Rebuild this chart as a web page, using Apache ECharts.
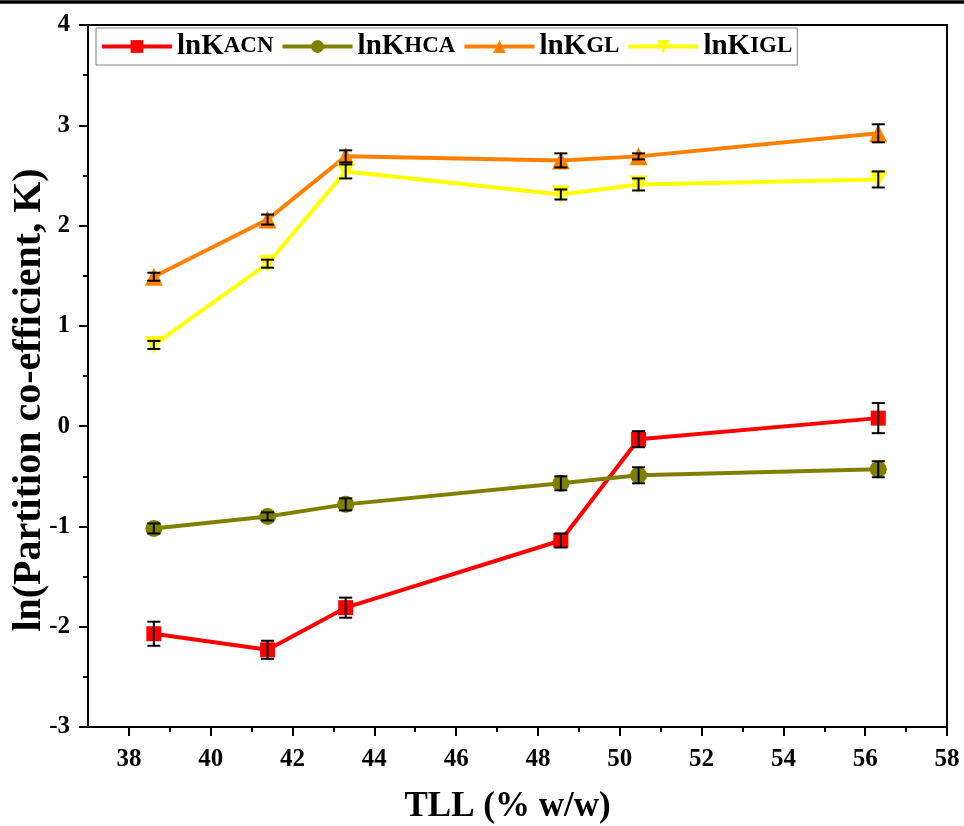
<!DOCTYPE html>
<html>
<head>
<meta charset="utf-8">
<script src="https://cdn.jsdelivr.net/npm/echarts@6/dist/echarts.min.js"></script>
<style>
html,body{margin:0;padding:0;background:#fff;}
#chart{width:964px;height:826px;}
</style>
</head>
<body>
<div id="chart"></div>
<script>
// ---- data ----
var tll = [38.61, 41.39, 43.30, 48.56, 50.46, 56.32];
var acn = [-2.07, -2.23, -1.81, -1.14, -0.13, 0.08];
var acnErr = [0.12, 0.09, 0.10, 0.07, 0.08, 0.15];
var hca = [-1.02, -0.90, -0.78, -0.57, -0.49, -0.43];
var hcaErr = [0.05, 0.04, 0.06, 0.07, 0.08, 0.08];
var gl = [1.49, 2.06, 2.69, 2.65, 2.69, 2.92];
var glErr = [0.04, 0.05, 0.06, 0.07, 0.03, 0.09];
var igl = [0.81, 1.62, 2.54, 2.31, 2.41, 2.46];
var iglErr = [0.04, 0.04, 0.07, 0.05, 0.06, 0.08];
var seriesNames = ['lnKACN', 'lnKHCA', 'lnKGL', 'lnKIGL'];
var subscripts = ['ACN', 'HCA', 'GL', 'IGL'];
var xMajorTicks = [38, 40, 42, 44, 46, 48, 50, 52, 54, 56, 58];
var xMinorTicks = [39, 41, 43, 45, 47, 49, 51, 53, 55, 57];

var FONT = '"Liberation Serif", "Times New Roman", serif';
var chart = echarts.init(document.getElementById('chart'), null, {renderer: 'canvas'});

function pairs(ys) { return tll.map(function (x, i) { return [x, ys[i]]; }); }
function errPairs(ys, es) { return tll.map(function (x, i) { return [x, ys[i] - es[i], ys[i] + es[i]]; }); }

function errorSeries(ys, es) {
  return {
    type: 'custom',
    xAxisIndex: 0, yAxisIndex: 0,
    z: 10,
    silent: true,
    data: errPairs(ys, es),
    renderItem: function (params, api) {
      var lo = api.coord([api.value(0), api.value(1)]);
      var hi = api.coord([api.value(0), api.value(2)]);
      var hw = 6.5;
      var st = {stroke: '#000', lineWidth: 2};
      return {
        type: 'group',
        children: [
          {type: 'line', shape: {x1: lo[0], y1: lo[1], x2: hi[0], y2: hi[1]}, style: st},
          {type: 'line', shape: {x1: lo[0] - hw, y1: lo[1], x2: lo[0] + hw, y2: lo[1]}, style: st},
          {type: 'line', shape: {x1: hi[0] - hw, y1: hi[1], x2: hi[0] + hw, y2: hi[1]}, style: st}
        ]
      };
    }
  };
}

function lineSeries(name, ys, color, symbol, size, rotate) {
  return {
    name: name, type: 'line',
    xAxisIndex: 0, yAxisIndex: 0,
    data: pairs(ys),
    symbol: symbol, symbolSize: size, symbolRotate: rotate || 0,
    showAllSymbol: true,
    lineStyle: {color: color, width: 4},
    itemStyle: {color: color, borderWidth: 0},
    emphasis: {disabled: true},
    z: 3
  };
}

var subMap = {};
seriesNames.forEach(function (n, i) { subMap[n] = subscripts[i]; });

var option = {
  backgroundColor: '#ffffff',
  animation: false,
  grid: {left: 88, right: 17, top: 25, bottom: 99, containLabel: false, outerBoundsMode: 'none'},
  graphic: [
    {type: 'line', shape: {x1: 0, y1: 2, x2: 964, y2: 2}, style: {stroke: '#000', lineWidth: 3.5}, silent: true}
  ],
  legend: {
    data: seriesNames,
    left: 96, top: 28,
    orient: 'horizontal',
    itemWidth: 70, itemHeight: 16, itemGap: 7,
    padding: [4, 5, 4, 4],
    borderColor: '#808080', borderWidth: 1,
    backgroundColor: '#ffffff',
    lineStyle: {width: 4},
    formatter: function (n) { return '{a|lnK}{b|' + subMap[n] + '}'; },
    textStyle: {
      fontFamily: FONT, fontWeight: 'bold', color: '#000',
      rich: {
        a: {fontFamily: FONT, fontWeight: 'bold', fontSize: 29, color: '#000'},
        b: {fontFamily: FONT, fontWeight: 'bold', fontSize: 23, color: '#000'}
      }
    }
  },
  xAxis: [
    {
      type: 'value', min: 37, max: 58, interval: 1, position: 'bottom',
      name: 'TLL (% w/w)', nameLocation: 'middle', nameGap: 62, nameMoveOverlap: false,
      nameTextStyle: {fontFamily: FONT, fontWeight: 'bold', fontSize: 35, color: '#000', padding: [0, 20, 0, 0]},
      axisLine: {show: true, onZero: false, lineStyle: {color: '#000', width: 2}},
      axisTick: {show: true, inside: false, length: 9, customValues: xMajorTicks, lineStyle: {color: '#000', width: 2}},
      axisLabel: {show: true, margin: 20, customValues: xMajorTicks, fontFamily: FONT, fontWeight: 'bold', fontSize: 25, color: '#000'},
      splitLine: {show: false}
    },
    {
      type: 'value', min: 37, max: 58, interval: 1, position: 'bottom', offset: 0,
      axisLine: {show: false, onZero: false},
      axisTick: {show: true, inside: false, length: 5, customValues: xMinorTicks, lineStyle: {color: '#000', width: 2}},
      axisLabel: {show: false},
      splitLine: {show: false}
    },
    {
      type: 'value', min: 37, max: 58, position: 'top',
      axisLine: {show: true, onZero: false, lineStyle: {color: '#000', width: 2}},
      axisTick: {show: false}, axisLabel: {show: false}, splitLine: {show: false}
    }
  ],
  yAxis: [
    {
      type: 'value', min: -3, max: 4, interval: 1, position: 'left',
      name: 'ln(Partition co-efficient, K)', nameLocation: 'middle', nameGap: 38, nameRotate: 90, nameMoveOverlap: false,
      nameTextStyle: {fontFamily: FONT, fontWeight: 'bold', fontSize: 40, color: '#000', padding: [0, 48, 0, 0]},
      axisLine: {show: true, onZero: false, lineStyle: {color: '#000', width: 2}},
      axisTick: {show: true, inside: false, length: 9, lineStyle: {color: '#000', width: 2}},
      minorTick: {show: true, splitNumber: 2, length: 5, lineStyle: {color: '#000', width: 2}},
      axisLabel: {show: true, margin: 18, fontFamily: FONT, fontWeight: 'bold', fontSize: 25, color: '#000'},
      splitLine: {show: false}, minorSplitLine: {show: false}
    },
    {
      type: 'value', min: -3, max: 4, position: 'right',
      axisLine: {show: true, onZero: false, lineStyle: {color: '#000', width: 2}},
      axisTick: {show: false}, axisLabel: {show: false}, splitLine: {show: false}
    }
  ],
  series: [
    lineSeries(seriesNames[0], acn, '#ff0000', 'rect', 15),
    lineSeries(seriesNames[1], hca, '#808000', 'circle', 17),
    lineSeries(seriesNames[2], gl, '#ff8000', 'triangle', 18),
    lineSeries(seriesNames[3], igl, '#ffff00', 'triangle', 18, 180),
    errorSeries(acn, acnErr),
    errorSeries(hca, hcaErr),
    errorSeries(gl, glErr),
    errorSeries(igl, iglErr)
  ]
};
chart.setOption(option);
</script>
</body>
</html>
